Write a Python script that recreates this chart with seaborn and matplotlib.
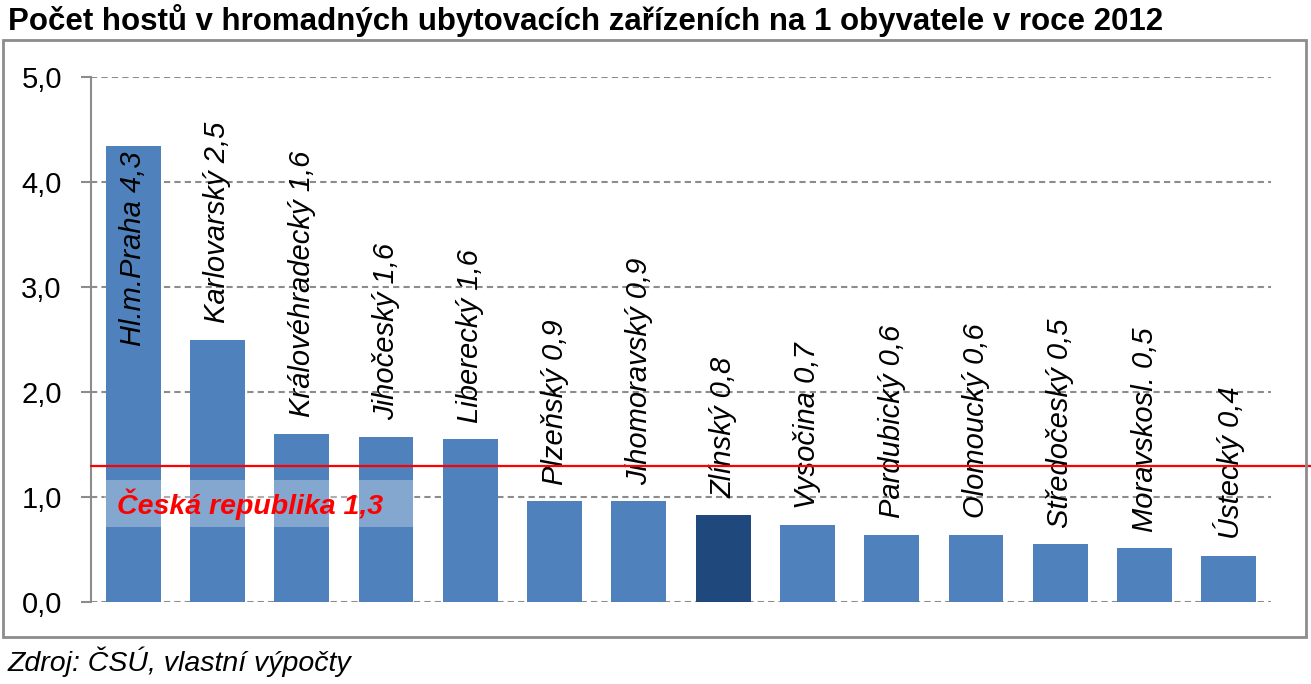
import matplotlib
matplotlib.use("Agg")
import matplotlib.pyplot as plt
from matplotlib.patches import Rectangle
import seaborn as sns
import pandas as pd

# ---- data ----
regions = ["Hl.m.Praha", "Karlovarský", "Královéhradecký", "Jihočeský", "Liberecký",
           "Plzeňský", "Jihomoravský", "Zlínský", "Vysočina", "Pardubický",
           "Olomoucký", "Středočeský", "Moravskosl.", "Ústecký"]
values = [4.34, 2.50, 1.60, 1.57, 1.55, 0.96, 0.96, 0.83, 0.73, 0.64, 0.64, 0.55, 0.51, 0.44]
value_labels = ["4,3", "2,5", "1,6", "1,6", "1,6", "0,9", "0,9", "0,8", "0,7", "0,6",
                "0,6", "0,5", "0,5", "0,4"]
highlight = "Zlínský"
cz_value = 1.3
cz_label = "Česká republika 1,3"
yticks = [0, 1, 2, 3, 4, 5]
ytick_labels = ["0,0", "1,0", "2,0", "3,0", "4,0", "5,0"]
title = "Počet hostů v hromadných ubytovacích zařízeních na 1 obyvatele v roce 2012"
source = "Zdroj: ČSÚ, vlastní výpočty"

BLUE = "#4F81BD"
DARK = "#1F497D"
GRAY = "#8c8c8c"

sns.set_theme(style="white")
plt.rcParams["font.family"] = ["Liberation Sans", "DejaVu Sans"]
plt.rcParams["text.color"] = "black"
plt.rcParams["ytick.color"] = GRAY
plt.rcParams["ytick.labelcolor"] = "black"

W, H = 1311, 684
fig = plt.figure(figsize=(W / 100, H / 100), dpi=100)
ax = fig.add_axes([91 / W, 1 - 602 / H, (1271 - 91) / W, (602 - 77) / H])

df = pd.DataFrame({"region": regions, "value": values})
palette = {r: (DARK if r == highlight else BLUE) for r in regions}
sns.barplot(data=df, x="region", y="value", hue="region", palette=palette,
            legend=False, width=0.65, saturation=1, ax=ax, edgecolor="none")

ax.set_ylim(0, 5)
ax.set_xlim(-0.5, len(regions) - 0.5)
ax.set_yticks(yticks)
ax.set_yticklabels(ytick_labels, fontsize=21)
ax.set_xticks([])
ax.set_xlabel("")
ax.set_ylabel("")
ax.tick_params(axis="y", left=True, length=7, width=1.5, pad=14, colors=GRAY,
               labelcolor="black")
ax.yaxis.grid(True, color=GRAY, lw=1.5, ls=(0, (3, 2)))
ax.set_axisbelow(True)
for s in ["top", "right", "bottom"]:
    ax.spines[s].set_visible(False)
ax.spines["left"].set_color(GRAY)
ax.spines["left"].set_linewidth(1.5)

# bar labels
for i, (r, v, lab) in enumerate(zip(regions, values, value_labels)):
    txt = f"{r} {lab}"
    if i == 0:
        ax.annotate(txt, (i, v), xytext=(0, -4), textcoords="offset points",
                    rotation=90, ha="center", va="top", fontsize=21,
                    style="italic", color="black")
    else:
        ax.annotate(txt, (i, v), xytext=(0, 12), textcoords="offset points",
                    rotation=90, ha="center", va="bottom", fontsize=21,
                    style="italic", color="black")

# national average line
ax.axhline(cz_value, xmin=0, xmax=(W - 91) / (1271 - 91), color="red", lw=1.6,
           clip_on=False, zorder=3)
bw = 0.65
ax.add_patch(Rectangle((-bw / 2 - 0.02, 0.71), 3 + bw + 0.04, 0.45,
                       facecolor="white", alpha=0.3, edgecolor="none", zorder=4))
ax.text(-bw / 2 + 0.13, 0.935, cz_label, color="red", fontsize=20.5,
        fontweight="bold", style="italic", ha="left", va="center", zorder=5)

# outer frame
fig.patches.append(Rectangle((3 / W, 1 - 637 / H), (1306 - 3) / W, (637 - 40) / H,
                             transform=fig.transFigure, fill=False,
                             edgecolor=GRAY, lw=2))

fig.text(8 / W, 1 - 21 / H, title, fontsize=22.5, fontweight="bold",
         ha="left", va="center", color="black")
fig.text(8 / W, 1 - 662 / H, source, fontsize=20.5, style="italic",
         ha="left", va="center", color="black")

fig.savefig("out.png", dpi=100)
